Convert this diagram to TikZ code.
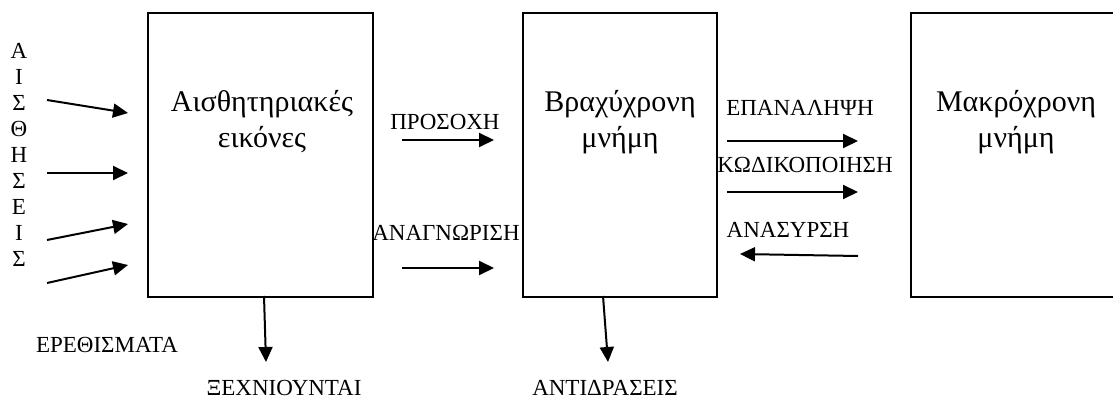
\documentclass[tikz,border=0pt]{standalone}
\usepackage{fontspec}
\setmainfont{Liberation Serif}
\usetikzlibrary{arrows.meta}
\tikzset{
  box/.style={draw, line width=2pt, anchor=north west, inner sep=0pt},
  arr/.style={line width=2pt, -{Triangle[length=15pt,width=14pt]}},
  lbl/.style={anchor=base, inner sep=0pt, font=\fontsize{23}{27}\selectfont},
  big/.style={anchor=base, inner sep=0pt, font=\fontsize{30}{36}\selectfont},
}
\begin{document}
\begin{tikzpicture}[x=1pt,y=-1pt]
\useasboundingbox (0,0) rectangle (1113,398);
\clip (0,0) rectangle (1113,398);
% boxes
\node[box, minimum width=225pt, minimum height=284pt] (aisth) at (147,12) {};
\node[box, minimum width=194pt, minimum height=284pt] (brax) at (522,12) {};
\node[box, minimum width=215pt, minimum height=284pt] (makr) at (910,12) {};
% box texts
\node[big] (t1a) at (262,112) {Αισθητηριακές};
\node[big] (t1b) at (262,148) {εικόνες};
\node[big] (t2a) at (620,112) {Βραχύχρονη};
\node[big] (t2b) at (620,148) {μνήμη};
\node[big] (t3a) at (1016,112) {Μακρόχρονη};
\node[big] (t3b) at (1016,148) {μνήμη};
% vertical word
\foreach \c [count=\i from 0] in {Α,Ι,Σ,Θ,Η,Σ,Ε,Ι,Σ}{
  \node[lbl] (v\i) at (19,59+25.9*\i) {\c};
}
% labels
\node[lbl] (eref) at (107,352) {ΕΡΕΘΙΣΜΑΤΑ};
\node[lbl] (pros) at (445,130) {ΠΡΟΣΟΧΗ};
\node[lbl] (anag) at (446,240) {ΑΝΑΓΝΩΡΙΣΗ};
\node[lbl] (epan) at (800,116) {ΕΠΑΝΑΛΗΨΗ};
\node[lbl] (kod) at (805,173) {ΚΩΔΙΚΟΠΟΙΗΣΗ};
\node[lbl] (anas) at (788,237) {ΑΝΑΣΥΡΣΗ};
\node[lbl] (xex) at (284,395) {ΞΕΧΝΙΟΥΝΤΑΙ};
\node[lbl] (anti) at (605,395) {ΑΝΤΙΔΡΑΣΕΙΣ};
% arrow end points
\coordinate (s1a) at (47,100);  \coordinate (s1b) at (128,113);
\coordinate (s2a) at (47,173);  \coordinate (s2b) at (128,173);
\coordinate (s3a) at (47,240);  \coordinate (s3b) at (128,224);
\coordinate (s4a) at (47,283);  \coordinate (s4b) at (128,265);
\coordinate (pa) at (402,140);  \coordinate (pb) at (494,140);
\coordinate (ra) at (402,268);  \coordinate (rb) at (494,268);
\coordinate (ea) at (727,141);  \coordinate (eb) at (858,141);
\coordinate (ka) at (727,192);  \coordinate (kb) at (858,192);
\coordinate (aa) at (858,256);  \coordinate (ab) at (740,254);
\coordinate (xa) at (264,296);  \coordinate (xb) at (266,362);
\coordinate (ya) at (603,296);  \coordinate (yb) at (608,362);
\draw[arr] (s1a) -- (s1b);
\draw[arr] (s2a) -- (s2b);
\draw[arr] (s3a) -- (s3b);
\draw[arr] (s4a) -- (s4b);
\draw[arr] (pa) -- (pb);
\draw[arr] (ra) -- (rb);
\draw[arr] (ea) -- (eb);
\draw[arr] (ka) -- (kb);
\draw[arr] (aa) -- (ab);
\draw[arr] (xa) -- (xb);
\draw[arr] (ya) -- (yb);
\end{tikzpicture}
\end{document}
